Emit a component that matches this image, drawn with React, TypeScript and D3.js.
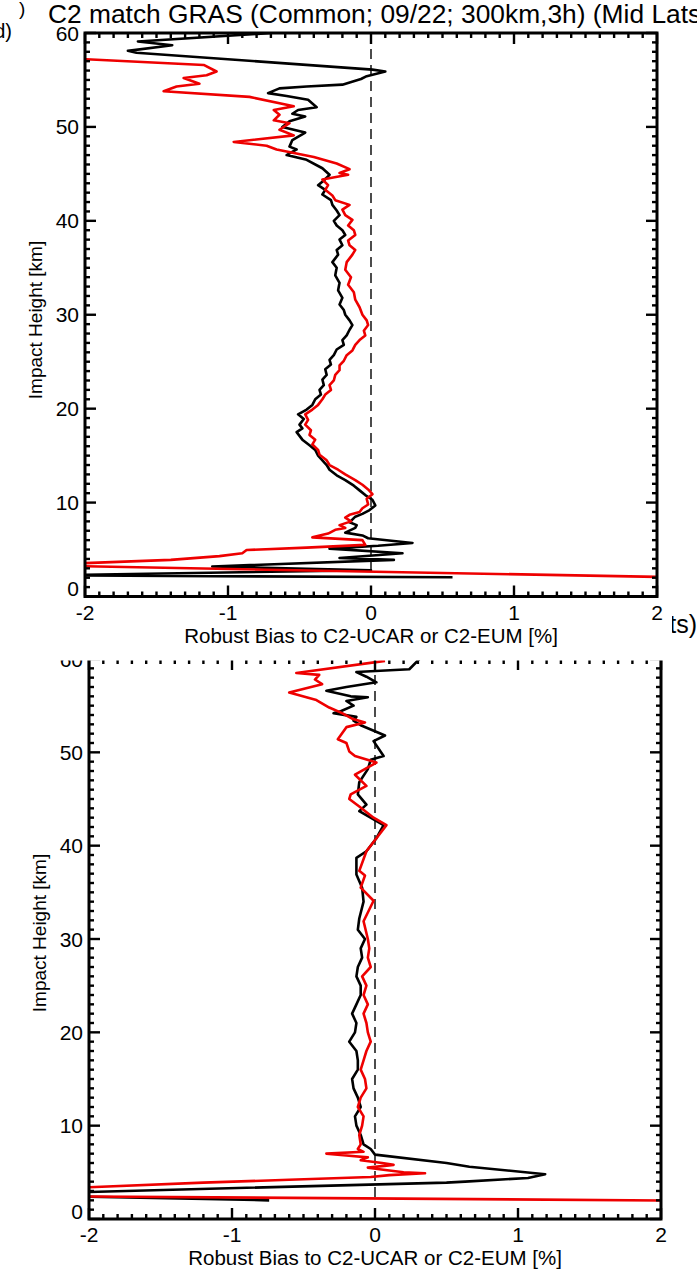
import React from "react";
import * as d3 from "d3";

const titleText = "C2 match GRAS (Common; 09/22; 300km,3h) (Mid Lats)";
const titleTail = "ts)";
const xLabel = "Robust Bias to C2-UCAR or C2-EUM [%]";
const yLabel = "Impact Height [km]";
const xTicks = [-2, -1, 0, 1, 2];
const yTicks = [0, 10, 20, 30, 40, 50, 60];

// [impact height km, robust bias %]
const topBlack: [number, number][] = [
  [60.0, -0.7], [59.1, -1.63], [58.7, -1.39], [58.1, -1.7], [57.9, -1.64], [56.1, 0.01], [55.9, 0.1],
  [55.4, -0.03], [55.1, -0.07], [54.5, -0.2], [54.3, -0.45], [54.1, -0.64], [53.6, -0.72], [53.3, -0.59],
  [52.9, -0.44], [52.1, -0.38], [51.8, -0.51], [51.4, -0.55], [51.1, -0.46], [50.6, -0.57], [50.0, -0.62],
  [49.4, -0.46], [48.6, -0.55], [47.9, -0.57], [47.6, -0.52], [47.0, -0.59], [46.5, -0.45], [45.6, -0.34],
  [44.9, -0.29], [44.3, -0.33], [43.8, -0.37], [43.3, -0.32], [42.8, -0.34], [42.2, -0.28], [41.7, -0.27],
  [41.1, -0.24], [40.6, -0.22], [40.0, -0.26], [39.5, -0.24], [39.0, -0.2], [38.5, -0.18], [38.0, -0.22],
  [37.4, -0.2], [36.9, -0.24], [36.4, -0.23], [35.6, -0.27], [35.0, -0.24], [34.2, -0.25], [33.4, -0.22],
  [32.6, -0.23], [31.8, -0.2], [31.1, -0.22], [30.5, -0.19], [30.0, -0.18], [29.4, -0.15], [28.9, -0.13],
  [28.4, -0.15], [27.8, -0.17], [27.3, -0.2], [26.8, -0.19], [26.3, -0.24], [25.7, -0.26], [25.2, -0.29],
  [24.7, -0.28], [24.2, -0.32], [23.6, -0.31], [23.1, -0.34], [22.5, -0.33], [22.0, -0.36], [21.5, -0.35],
  [21.0, -0.39], [20.4, -0.41], [19.9, -0.45], [19.4, -0.51], [18.9, -0.47], [18.3, -0.5], [17.9, -0.48],
  [17.5, -0.52], [17.1, -0.5], [16.7, -0.48], [16.1, -0.43], [15.6, -0.39], [15.0, -0.37], [14.5, -0.34],
  [14.0, -0.31], [13.5, -0.29], [12.9, -0.24], [12.4, -0.18], [11.8, -0.12], [11.3, -0.08], [10.8, -0.04],
  [10.3, 0.01], [9.7, 0.03], [9.2, -0.01], [8.8, -0.06], [8.5, -0.11], [7.9, -0.15], [7.6, -0.1],
  [7.3, -0.11], [6.8, -0.18], [6.5, -0.06], [6.2, -0.02], [5.7, 0.29], [5.4, 0.05], [5.1, -0.29],
  [4.6, 0.22], [4.1, -0.22], [3.9, 0.16], [3.2, -1.11], [2.8, 0.0], [2.25, -2.3], [2.05, 0.57],
];

const topRed: [number, number][] = [
  [57.4, -2.3], [57.2, -1.99], [56.6, -1.17], [55.9, -1.08], [55.5, -1.15], [55.2, -1.31], [54.6, -1.2],
  [54.3, -1.36], [53.8, -1.45], [53.2, -0.85], [52.2, -0.54], [51.8, -0.68], [51.3, -0.64], [50.7, -0.68],
  [50.4, -0.57], [49.7, -0.64], [49.1, -0.54], [48.4, -0.96], [48.0, -0.73], [47.6, -0.66], [46.8, -0.4],
  [46.1, -0.24], [45.5, -0.15], [45.1, -0.22], [44.9, -0.16], [44.4, -0.34], [43.8, -0.3], [43.3, -0.32],
  [42.7, -0.27], [42.2, -0.25], [41.7, -0.15], [41.2, -0.2], [40.6, -0.18], [40.1, -0.13], [39.5, -0.16],
  [39.0, -0.12], [38.5, -0.11], [37.9, -0.16], [37.4, -0.15], [36.9, -0.11], [36.4, -0.13], [35.6, -0.17],
  [34.8, -0.18], [34.0, -0.14], [33.2, -0.16], [32.4, -0.12], [31.6, -0.11], [30.8, -0.08], [30.0, -0.06],
  [29.4, -0.03], [28.9, -0.02], [28.3, -0.05], [27.8, -0.04], [27.3, -0.08], [26.8, -0.11], [26.2, -0.13],
  [25.7, -0.17], [25.1, -0.19], [24.6, -0.22], [24.1, -0.22], [23.6, -0.25], [23.0, -0.26], [22.5, -0.29],
  [22.0, -0.28], [21.5, -0.32], [21.0, -0.34], [20.4, -0.37], [19.9, -0.41], [19.4, -0.46], [18.8, -0.44],
  [18.3, -0.46], [17.7, -0.42], [17.2, -0.43], [16.7, -0.39], [16.2, -0.41], [15.6, -0.37], [15.1, -0.36],
  [14.5, -0.31], [14.0, -0.29], [13.5, -0.23], [13.0, -0.18], [12.4, -0.11], [11.9, -0.06], [11.4, -0.02],
  [10.9, 0.01], [10.4, -0.03], [9.8, -0.02], [9.4, -0.06], [9.0, -0.08], [8.7, -0.15], [8.4, -0.18],
  [8.0, -0.14], [7.6, -0.22], [7.3, -0.18], [7.1, -0.25], [6.7, -0.3], [6.3, -0.41], [6.0, -0.06],
  [5.5, -0.04], [5.2, -0.45], [4.95, -0.87], [4.6, -0.9], [4.3, -1.06], [3.9, -1.4], [3.5, -2.1],
  [3.3, -2.3], [2.0, 2.3],
];

const bottomBlack: [number, number][] = [
  [60.3, 0.33], [58.9, 0.24], [58.6, -0.13], [58.1, -0.06], [57.5, 0.01], [57.0, -0.2], [56.6, -0.34],
  [56.0, -0.17], [55.9, -0.05], [55.5, -0.2], [55.0, -0.15], [54.4, -0.24], [54.2, -0.29], [53.8, -0.13],
  [53.4, -0.15], [52.9, -0.1], [51.8, 0.07], [51.2, -0.01], [49.6, 0.06], [49.2, -0.03], [48.2, -0.05],
  [46.8, -0.11], [45.5, -0.12], [44.4, -0.06], [43.7, -0.11], [42.2, 0.06], [40.8, 0.01], [39.4, -0.06],
  [38.7, -0.13], [36.9, -0.13], [35.5, -0.09], [34.0, -0.08], [32.2, -0.11], [31.0, -0.12], [30.0, -0.07],
  [29, -0.1], [28, -0.09], [27, -0.12], [26, -0.13], [25, -0.1], [24, -0.1], [23, -0.13], [22, -0.16],
  [21, -0.13], [20, -0.14], [19, -0.18], [18, -0.13], [17, -0.12], [16, -0.12], [15, -0.16], [14, -0.15],
  [13, -0.12], [12, -0.1], [11, -0.14], [10, -0.13], [9, -0.1], [8, -0.08], [7.5, -0.03], [6.9, 0.0],
  [6.0, 0.5], [5.6, 0.66], [4.8, 1.19], [4.4, 1.07], [4.0, 0.63], [3.9, 0.5], [2.9, -2.0], [2.5, -2.4],
  [2.0, -0.74],
];

const bottomRed: [number, number][] = [
  [59.8, 0.07], [58.5, -0.55], [58.3, -0.39], [57.8, -0.42], [57.3, -0.37], [56.4, -0.6], [55.6, -0.41],
  [54.8, -0.32], [54.2, -0.23], [53.6, -0.16], [53.2, -0.07], [52.7, -0.2], [51.4, -0.26], [51.0, -0.2],
  [50.1, -0.18], [49.6, -0.14], [48.9, 0.01], [47.6, -0.14], [46.4, -0.06], [45.5, -0.17], [45.0, -0.18],
  [44.2, -0.11], [43.0, -0.01], [42.2, 0.08], [40.8, 0.01], [39.4, -0.06], [37.3, -0.11], [36.8, -0.07],
  [35.5, -0.1], [34.1, -0.01], [31.9, -0.08], [30.0, -0.05], [29, -0.04], [28, -0.05], [27, -0.03],
  [26, -0.09], [25, -0.06], [24, -0.08], [23, -0.05], [22, -0.08], [21, -0.06], [20, -0.05], [19, -0.03],
  [18, -0.06], [17, -0.08], [16, -0.1], [15, -0.07], [14, -0.06], [13, -0.1], [12, -0.12], [11, -0.08],
  [10, -0.09], [9, -0.11], [8.0, -0.1], [7.5, -0.12], [7.2, -0.08], [7.0, -0.34], [6.8, -0.2], [6.6, -0.05],
  [6.3, -0.1], [6.0, 0.05], [5.8, 0.13], [5.5, -0.05], [5.2, 0.1], [5.0, 0.2], [4.9, 0.35], [4.7, 0.1],
  [4.5, -0.03], [4.2, -0.6], [3.9, -1.2], [3.4, -2.0], [2.45, -2.3], [1.95, 2.3],
];

const FONT = "'Liberation Sans', Arial, Helvetica, sans-serif";

type PanelProps = {
  id: string;
  left: number;
  right: number;
  top: number;
  bottom: number;
  black: [number, number][];
  red: [number, number][];
  zeroEnd: number;
  labelX: number;
  labelY: number;
  openTop?: boolean;
};

function Panel({ id, left, right, top, bottom, black, red, zeroEnd, labelX, labelY, openTop }: PanelProps) {
  const x = d3.scaleLinear().domain([-2, 2]).range([left, right]);
  const y = d3.scaleLinear().domain([0, 60]).range([bottom, top]);
  const line = d3
    .line<[number, number]>()
    .x((d) => x(d[1]))
    .y((d) => y(d[0]));

  const minorX = d3.range(-20, 21).map((i) => i / 10);
  const minorY = d3.range(0, 61);
  const isMajorX = (v: number) => Math.abs(v - Math.round(v)) < 1e-6;
  const tk = (major: boolean) => (major ? 11 : 5);

  return (
    <g>
      <defs>
        <clipPath id={id}>
          <rect x={left} y={top} width={right - left} height={bottom - top} />
        </clipPath>
      </defs>
      <line
        x1={x(0)}
        x2={x(0)}
        y1={y(60)}
        y2={y(zeroEnd)}
        stroke="#000"
        strokeWidth={1.4}
        strokeDasharray="10,6"
      />
      <g clipPath={`url(#${id})`} fill="none" strokeLinejoin="round">
        <path d={line(black) ?? ""} stroke="#000" strokeWidth={2.6} />
        <path d={line(red) ?? ""} stroke="#ee0000" strokeWidth={2.6} />
      </g>
      <g stroke="#000" strokeWidth={2.4}>
        {minorX.map((v) => (
          <g key={`x${v}`}>
            <line x1={x(v)} x2={x(v)} y1={bottom} y2={bottom - tk(isMajorX(v))} />
            <line x1={x(v)} x2={x(v)} y1={top} y2={top + tk(isMajorX(v))} />
          </g>
        ))}
        {minorY.map((h) => (
          <g key={`y${h}`}>
            <line x1={left} x2={left + tk(h % 10 === 0)} y1={y(h)} y2={y(h)} />
            <line x1={right} x2={right - tk(h % 10 === 0)} y1={y(h)} y2={y(h)} />
          </g>
        ))}
      </g>
      <path
        d={
          openTop
            ? `M${left},${top}V${bottom}H${right}V${top}`
            : `M${left},${top}V${bottom}H${right}V${top}Z`
        }
        fill="none"
        stroke="#000"
        strokeWidth={3}
      />
      <g fontFamily={FONT} fontSize={21} fill="#000">
        {xTicks.map((v) => (
          <text key={v} x={x(v)} y={bottom + 23} textAnchor="middle">
            {v}
          </text>
        ))}
        {yTicks.map((h) => (
          <text key={h} x={left - 6} y={y(h) + 7.5 - (h === 0 ? 8 : 0)} textAnchor="end">
            {h}
          </text>
        ))}
      </g>
      <text
        x={(left + right) / 2}
        y={bottom + 46}
        textAnchor="middle"
        fontFamily={FONT}
        fontSize={20.5}
      >
        {xLabel}
      </text>
      <text
        transform={`translate(${labelX},${labelY}) rotate(-90)`}
        textAnchor="middle"
        fontFamily={FONT}
        fontSize={19}
      >
        {yLabel}
      </text>
    </g>
  );
}

export default function App() {
  return (
    <svg
      width={697}
      height={1272}
      style={{ position: "absolute", left: 0, top: 0, background: "#fff" }}
    >
      <defs>
        <clipPath id="tailClip">
          <rect x={672} y={600} width={40} height={50} />
        </clipPath>
      </defs>
      <rect x={0} y={0} width={697} height={1272} fill="#fff" />
      {/* tail of the lower panel's title, the rest sits under the upper panel */}
      <text
        x={697}
        y={633}
        textAnchor="end"
        fontFamily={FONT}
        fontSize={25}
        clipPath="url(#tailClip)"
      >
        {titleTail}
      </text>
      <Panel
        id="clipBottom"
        left={89}
        right={661}
        top={659}
        bottom={1219}
        black={bottomBlack}
        red={bottomRed}
        zeroEnd={2.35}
        labelX={45.5}
        labelY={933}
        openTop
      />
      <rect x={0} y={0} width={668} height={660.5} fill="#fff" />
      <text
        x={48}
        y={23}
        fontFamily={FONT}
        fontSize={25}
        textLength={662}
        lengthAdjust="spacingAndGlyphs"
      >
        {titleText}
      </text>
      <text x={19} y={15} fontFamily={FONT} fontSize={19}>
        )
      </text>
      <text x={12} y={37.5} textAnchor="end" fontFamily={FONT} fontSize={20}>
        d)
      </text>
      <Panel
        id="clipTop"
        left={85}
        right={657}
        top={33}
        bottom={596.5}
        black={topBlack}
        red={topRed}
        zeroEnd={2.5}
        labelX={41.5}
        labelY={320}
      />
    </svg>
  );
}
